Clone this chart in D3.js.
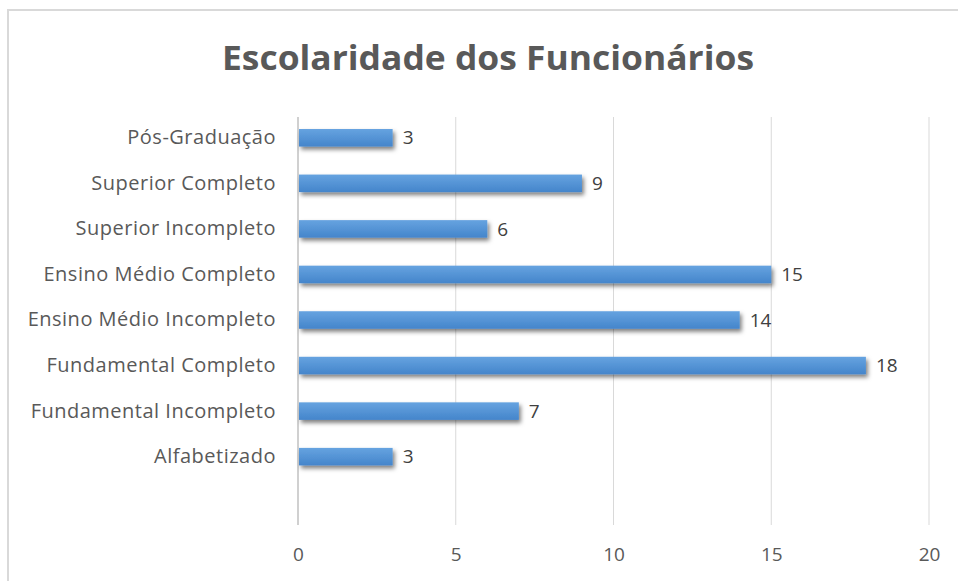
<!DOCTYPE html>
<html>
<head>
<meta charset="utf-8">
<script src="https://cdn.jsdelivr.net/npm/d3@7"></script>
<style>
html,body{margin:0;padding:0;background:#fff;}
svg{display:block;}
text{font-family:"Open Sans","Noto Sans",sans-serif;}
</style>
</head>
<body>
<svg id="chart" width="958" height="581"></svg>
<script>
const title = "Escolaridade dos Funcionários";
const categories = ["Pós-Graduação","Superior Completo","Superior Incompleto","Ensino Médio Completo","Ensino Médio Incompleto","Fundamental Completo","Fundamental Incompleto","Alfabetizado",""];
const values = [3,9,6,15,14,18,7,3,null];
const xTicks = [0,5,10,15,20];

const svg = d3.select("#chart");
const W = 958, H = 581;
const margin = {left:298, right:29, top:115, bottom:56};

const defs = svg.append("defs");
const grad = defs.append("linearGradient").attr("id","barGrad").attr("x1",0).attr("y1",0).attr("x2",0).attr("y2",1);
grad.append("stop").attr("offset","0%").attr("stop-color","#66a3e0");
grad.append("stop").attr("offset","100%").attr("stop-color","#4485cb");
const f = defs.append("filter").attr("id","shadow").attr("x","-10%").attr("y","-50%").attr("width","130%").attr("height","250%");
f.append("feDropShadow").attr("dx",2).attr("dy",3).attr("stdDeviation",2.2).attr("flood-color","#000").attr("flood-opacity",0.5);

// chart border
svg.append("rect").attr("x",8).attr("y",10).attr("width",970).attr("height",600)
  .attr("fill","none").attr("stroke","#d9d9d9").attr("stroke-width",2);

svg.append("text").attr("x",488).attr("y",70).attr("text-anchor","middle")
  .attr("font-size",34).attr("font-weight","bold").attr("fill","#595959")
  .attr("textLength",532).attr("lengthAdjust","spacingAndGlyphs").text(title);

const x = d3.scaleLinear().domain([0,20]).range([margin.left, W-margin.right]);
const y = d3.scaleBand().domain(categories.map((c,i)=>i)).range([margin.top, H-margin.bottom]).paddingInner(0.615).paddingOuter(0.3075);

// gridlines
svg.append("g").selectAll("line").data(xTicks).join("line")
  .attr("x1",d=>x(d)).attr("x2",d=>x(d))
  .attr("y1",margin.top+2).attr("y2",H-margin.bottom)
  .attr("stroke",d=>d===0?"#d0d0d0":"#d9d9d9").attr("stroke-width",d=>d===0?2:1);

// x axis tick labels
const xAxis = d3.axisBottom(x).tickValues(xTicks).tickSize(0).tickPadding(0);
const gx = svg.append("g").attr("transform",`translate(0,${H-margin.bottom+22})`).call(xAxis);
gx.select(".domain").remove();
gx.selectAll("text").attr("font-size",19).attr("fill","#595959").attr("font-family","'Open Sans','Noto Sans',sans-serif");

// category labels
const yAxis = d3.axisLeft(y).tickFormat(i=>categories[i]).tickSize(0).tickPadding(22);
const gy = svg.append("g").attr("transform",`translate(${margin.left},0)`).call(yAxis);
gy.select(".domain").remove();
gy.selectAll("text").attr("font-size",20).attr("letter-spacing","0.5px").attr("fill","#595959").attr("font-family","'Open Sans','Noto Sans',sans-serif");

const data = categories.map((c,i)=>({i, v:values[i]})).filter(d=>d.v!=null);

svg.append("g").selectAll("rect").data(data).join("rect")
  .attr("x",x(0)+1).attr("y",d=>y(d.i))
  .attr("width",d=>x(d.v)-x(0)-1).attr("height",y.bandwidth())
  .attr("fill","url(#barGrad)").attr("filter","url(#shadow)");

svg.append("g").selectAll("text").data(data).join("text")
  .attr("x",d=>x(d.v)+10).attr("y",d=>y(d.i)+y.bandwidth()/2)
  .attr("dy","0.35em").attr("font-size",19).attr("fill","#404040")
  .text(d=>d.v);
</script>
</body>
</html>
